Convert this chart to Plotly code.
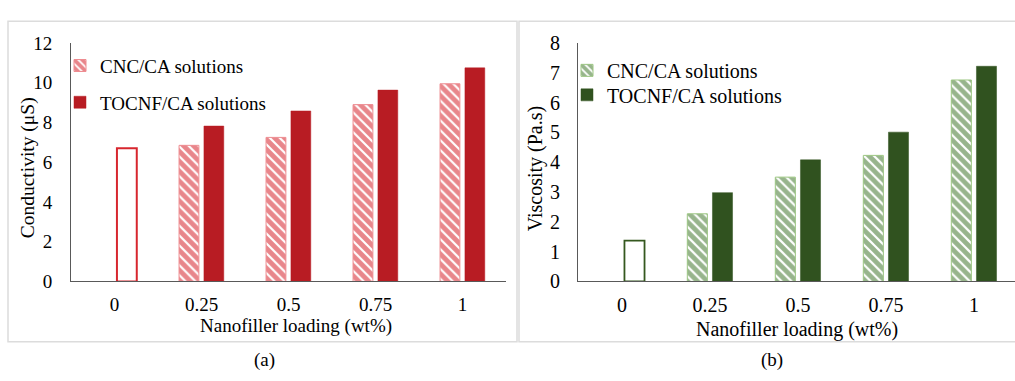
import plotly.graph_objects as go

# Nanofiller loading categories (wt%)
loading = ["0", "0.25", "0.5", "0.75", "1"]

# Conductivity (µS)
cond_ca = [6.7]                                   # neat CA solution at 0 wt%
cond_cnc = [None, 6.85, 7.25, 8.9, 9.95]
cond_tocnf = [None, 7.82, 8.58, 9.63, 10.75]

# Viscosity (Pa.s)
visc_ca = [1.37]
visc_cnc = [None, 2.27, 3.5, 4.23, 6.76]
visc_tocnf = [None, 2.98, 4.08, 5.01, 7.22]

W, H = 1015, 381
FONT = "Liberation Serif"


def px(x):
    return x / W


def py(y):
    return 1 - y / H


RED, RED_HATCH, RED_EDGE = "#B81C23", "#D20E18", "#EE8C91"
GREEN, GREEN_HATCH, GREEN_EDGE = "#30521F", "#2F6A1A", "#9CC682"

BAR_W = 0.228
OFF_LEFT = -0.258
OFF_RIGHT = 0.028

fig = go.Figure()

# ---- (a) conductivity ----
fig.add_trace(go.Bar(
    x=loading[:1], y=cond_ca, xaxis="x", yaxis="y", name="CA solution",
    showlegend=False, width=BAR_W, offset=OFF_RIGHT,
    marker=dict(color="white", line=dict(color="#D7262E", width=2)),
))
fig.add_trace(go.Bar(
    x=loading, y=cond_cnc, xaxis="x", yaxis="y", name="CNC/CA solutions",
    legend="legend", width=BAR_W, offset=OFF_LEFT,
    marker=dict(color="white", line=dict(color=RED_EDGE, width=1),
                pattern=dict(shape="\\", fgcolor=RED_HATCH, bgcolor="white",
                             size=7, solidity=0.7)),
))
fig.add_trace(go.Bar(
    x=loading, y=cond_tocnf, xaxis="x", yaxis="y", name="TOCNF/CA solutions",
    legend="legend2", width=BAR_W, offset=OFF_RIGHT,
    marker=dict(color=RED, line=dict(color=RED, width=0.5)),
))

# ---- (b) viscosity ----
fig.add_trace(go.Bar(
    x=loading[:1], y=visc_ca, xaxis="x2", yaxis="y2", name="CA solution",
    showlegend=False, width=BAR_W, offset=OFF_RIGHT,
    marker=dict(color="white", line=dict(color="#35581F", width=1.8)),
))
fig.add_trace(go.Bar(
    x=loading, y=visc_cnc, xaxis="x2", yaxis="y2", name="CNC/CA solutions",
    legend="legend3", width=BAR_W, offset=OFF_LEFT,
    marker=dict(color="white", line=dict(color=GREEN_EDGE, width=1),
                pattern=dict(shape="\\", fgcolor=GREEN_HATCH, bgcolor="white",
                             size=7, solidity=0.68)),
))
fig.add_trace(go.Bar(
    x=loading, y=visc_tocnf, xaxis="x2", yaxis="y2", name="TOCNF/CA solutions",
    legend="legend4", width=BAR_W, offset=OFF_RIGHT,
    marker=dict(color=GREEN, line=dict(color=GREEN, width=0.5)),
))

ydom = [py(287), py(34)]
axis_common = dict(showgrid=False, zeroline=False, showline=True,
                   linecolor="#595959", linewidth=1, ticks="")

legend_common = dict(bgcolor="rgba(0,0,0,0)", xanchor="left", yanchor="middle",
                     itemclick=False, itemdoubleclick=False)

fig.update_layout(
    width=W, height=H,
    margin=dict(l=0, r=0, t=0, b=0),
    paper_bgcolor="white", plot_bgcolor="white",
    barmode="overlay",
    font=dict(family=FONT, color="black"),
    xaxis=dict(axis_common, domain=[px(71), px(506)], anchor="y",
               type="category", range=[-0.5, 4.5], ticklabelstandoff=6,
               tickfont=dict(family=FONT, size=19, color="black")),
    yaxis=dict(axis_common, domain=ydom, anchor="x", range=[0, 12], dtick=2,
               ticklabelstandoff=14,
               tickfont=dict(family=FONT, size=19, color="black")),
    xaxis2=dict(axis_common, domain=[px(578), 1.0], anchor="y2",
                type="category", range=[-0.5, -0.5 + 437 / 88],
                ticklabelstandoff=6,
                tickfont=dict(family=FONT, size=20, color="black")),
    yaxis2=dict(axis_common, domain=ydom, anchor="x2", range=[0, 8], dtick=1,
                ticklabelstandoff=13,
                tickfont=dict(family=FONT, size=20, color="black")),
    legend=dict(legend_common, x=px(60), y=py(58), font=dict(family=FONT, size=19)),
    legend2=dict(legend_common, x=px(60), y=py(97), font=dict(family=FONT, size=19)),
    legend3=dict(legend_common, x=px(567), y=py(63), font=dict(family=FONT, size=20)),
    legend4=dict(legend_common, x=px(567), y=py(89), font=dict(family=FONT, size=20)),
)

# panel frames
for x0, x1 in [(8, 517), (519, 1020)]:
    fig.add_shape(type="rect", xref="paper", yref="paper",
                  x0=px(x0), x1=px(x1), y0=py(351), y1=py(11),
                  line=dict(color="#DCDCDC", width=1.5), layer="below")

# axis titles and panel labels
texts = [
    (28, 167, "Conductivity (μS)", -90, 19.5),
    (296, 334, "Nanofiller loading (wt%)", 0, 19),
    (535, 168, "Viscosity (Pa.s)", -90, 20),
    (797, 338, "Nanofiller loading (wt%)", 0, 20),
    (264, 370, "(a)", 0, 19),
    (772, 370, "(b)", 0, 19),
]
for x, y, t, ang, size in texts:
    fig.add_annotation(x=px(x), y=py(y), xref="paper", yref="paper", text=t,
                       showarrow=False, textangle=ang, xanchor="center",
                       yanchor="middle", font=dict(family=FONT, size=size, color="black"))

fig.write_html("out.html")
